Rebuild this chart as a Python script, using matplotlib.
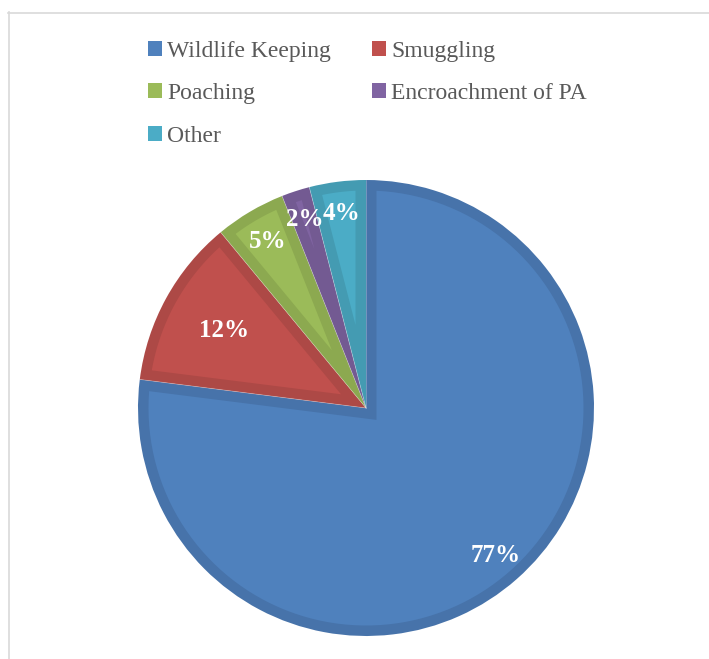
import numpy as np
import matplotlib.pyplot as plt
from matplotlib.patches import Patch, Polygon
from matplotlib.lines import Line2D

plt.rcParams['font.family'] = ['Liberation Serif', 'DejaVu Serif']

categories = ["Wildlife Keeping", "Smuggling", "Poaching", "Encroachment of PA", "Other"]
values = [77, 12, 5, 2, 4]
labels = ["77%", "12%", "5%", "2%", "4%"]

colors = ["#4F81BD", "#C0504D", "#9BBB59", "#8064A2", "#4BACC6"]
edge_colors = ["#4773AA", "#AD4946", "#8CA950", "#735A92", "#449BB2"]
label_dist = [0.86, 0.71, 0.85, 0.87, 0.86]
inset = 0.046  # width of the darker rim, in radius units


def inner_wedge(t1, t2, d, r=1.0):
    # region of the wedge (t1 -> t2, degrees, ccw) lying at least d from its edges
    half = np.deg2rad(t2 - t1) / 2
    mid = np.deg2rad(t1) + half
    apex = d / np.sin(half)
    ri = r - d
    delta = np.arcsin(d / ri)
    a = np.linspace(np.deg2rad(t1) + delta, np.deg2rad(t2) - delta, 120)
    pts = [(apex * np.cos(mid), apex * np.sin(mid))]
    pts += list(zip(ri * np.cos(a), ri * np.sin(a)))
    return pts


fig = plt.figure(figsize=(7.09, 6.59), dpi=100)
ax = fig.add_axes([138 / 709, 23 / 659, 456 / 709, 456 / 659])

wedges, _ = ax.pie(values, colors=edge_colors, startangle=90, counterclock=False,
                   radius=1, wedgeprops=dict(linewidth=0))

for w, c in zip(wedges, colors):
    ax.add_patch(Polygon(inner_wedge(w.theta1, w.theta2, inset), closed=True,
                         facecolor=c, edgecolor="none"))

# faint light separator lines between slices
for w in wedges:
    a = np.deg2rad(w.theta1)
    ax.plot([0, np.cos(a)], [0, np.sin(a)], color="white", lw=0.5, alpha=0.35)

for w, lab, d in zip(wedges, labels, label_dist):
    mid = np.deg2rad((w.theta1 + w.theta2) / 2)
    ax.text(d * np.cos(mid), d * np.sin(mid), lab, ha="center", va="center",
            color="white", fontsize=18, fontweight="bold")

ax.set_xlim(-1, 1)
ax.set_ylim(-1, 1)
ax.set_aspect("equal")
ax.axis("off")

# legend, filled row by row like the original
order = [0, 2, 4, 1, 3]
handles = [Patch(facecolor=colors[i], edgecolor="none") for i in order]
names = [categories[i] for i in order]
fig.legend(handles, names, ncol=2, loc="upper left",
           bbox_to_anchor=(148 / 709, 1 - 41 / 659), frameon=False,
           fontsize=17, labelcolor="#595959", handlelength=0.6, handleheight=0.6,
           handletextpad=0.2, labelspacing=0.9, columnspacing=1.75,
           borderpad=0, borderaxespad=0)

# outer chart frame (cut off at right and bottom)
fig.add_artist(Line2D([8.5 / 709, 8.5 / 709], [0, 1 - 12 / 659], color="#D9D9D9", lw=1.2))
fig.add_artist(Line2D([8 / 709, 1], [1 - 12.5 / 659, 1 - 12.5 / 659], color="#D9D9D9", lw=1.2))

fig.savefig("out.png", dpi=100)
